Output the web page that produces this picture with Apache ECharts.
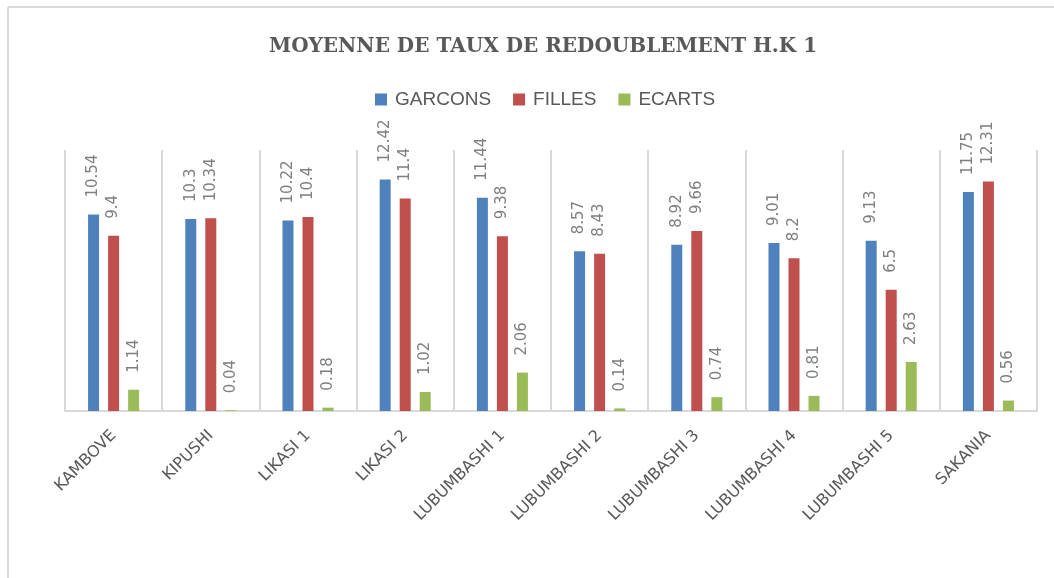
<!DOCTYPE html>
<html>
<head>
<meta charset="utf-8">
<script src="https://cdn.jsdelivr.net/npm/echarts@6/dist/echarts.min.js"></script>
<style>html,body{margin:0;padding:0;background:#fff}#c{width:1054px;height:578px}</style>
</head>
<body>
<div id="c"></div>
<script>
const titleText = 'MOYENNE DE TAUX DE REDOUBLEMENT H.K 1';
const categories = ['KAMBOVE','KIPUSHI','LIKASI 1','LIKASI 2','LUBUMBASHI 1','LUBUMBASHI 2','LUBUMBASHI 3','LUBUMBASHI 4','LUBUMBASHI 5','SAKANIA'];
const garcons = [10.54, 10.3, 10.22, 12.42, 11.44, 8.57, 8.92, 9.01, 9.13, 11.75];
const filles = [9.4, 10.34, 10.4, 11.4, 9.38, 8.43, 9.66, 8.2, 6.5, 12.31];
const ecarts = [1.14, 0.04, 0.18, 1.02, 2.06, 0.14, 0.74, 0.81, 2.63, 0.56];
const seriesNames = ['GARCONS','FILLES','ECARTS'];
const colors = ['#4f81bd','#c0504d','#9bbb59'];

const chart = echarts.init(document.getElementById('c'), null, {renderer:'canvas'});
const labelCfg = {
  show: true, position: 'top', rotate: 90, align: 'left', verticalAlign: 'middle',
  distance: 17, color: '#7f7f7f', fontFamily: 'DejaVu Sans', fontSize: 15
};
function mk(name, data, color){
  return {name, type:'bar', data, barWidth: 11, barGap: '82%',
    itemStyle:{color}, label: labelCfg, animation:false};
}
chart.setOption({
  animation: false,
  color: colors,
  title: {text: titleText, left: 264, top: 32,
    textStyle:{fontFamily:'DejaVu Serif', fontWeight:'bold', fontSize:20, color:'#595959'}},
  legend: {data: seriesNames, top: 85, left: 370, itemWidth: 12, itemHeight: 12, itemGap: 22,
    icon: 'rect', textStyle:{fontFamily:'Liberation Sans', fontSize:19, color:'#595959', padding:[0,0,0,3]}},
  grid: {left: 65, right: 17, top: 150, bottom: 167, containLabel: false},
  xAxis: {type:'category', data: categories,
    axisLine:{lineStyle:{color:'#d9d9d9', width:2}},
    axisTick:{show:false},
    splitLine:{show:true, lineStyle:{color:'#d9d9d9', width:2}},
    axisLabel:{rotate:45, interval:0, margin:22, color:'#595959', fontFamily:'DejaVu Sans', fontSize:16}},
  yAxis: {type:'value', min:0, max:14, show:false, splitLine:{show:false}},
  graphic: [
    {type:'line', shape:{x1:8, y1:7, x2:1054, y2:7}, style:{stroke:'#d9d9d9', lineWidth:2}},
    {type:'line', shape:{x1:8, y1:7, x2:8, y2:578}, style:{stroke:'#d9d9d9', lineWidth:2}}
  ],
  series: [mk(seriesNames[0], garcons, colors[0]), mk(seriesNames[1], filles, colors[1]), mk(seriesNames[2], ecarts, colors[2])]
});
</script>
</body>
</html>
